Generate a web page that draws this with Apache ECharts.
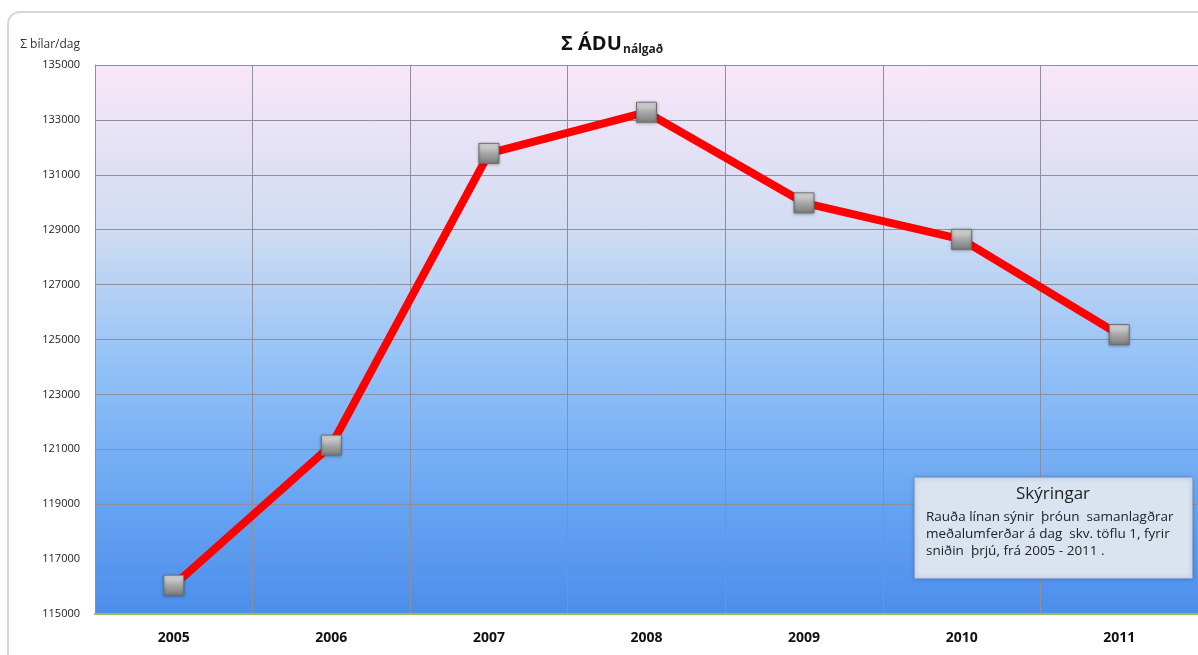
<!DOCTYPE html>
<html>
<head>
	<meta charset="utf-8">
	<title>Σ ÁDU nálgað</title>
	<script src="https://cdn.jsdelivr.net/npm/echarts@6/dist/echarts.min.js"></script>
	<style>
		html, body { margin: 0; padding: 0; background: #fff; }
	</style>
</head>
<body>
	<div id="main" style="width: 1198px;height: 655px;"></div>
</body>
<script type="text/javascript">
	var years = ['2005', '2006', '2007', '2008', '2009', '2010', '2011'];
	var adu = [116050, 121150, 131780, 133280, 129980, 128650, 125180];
	var yMin = 115000, yMax = 135000, yStep = 2000;

	var chart = echarts.init(document.getElementById('main'));
	var font = '"Open Sans", "DejaVu Sans", sans-serif';

	var option = {
		backgroundColor: '#fff',
		animation: false,
		grid: {
			left: 95, right: -3, top: 65, bottom: 41,
			show: true,
			borderWidth: 0,
			backgroundColor: new echarts.graphic.LinearGradient(0, 0, 0, 1, [
				{ offset: 0, color: '#f9e7f8' },
				{ offset: 0.3, color: '#d0dcf2' },
				{ offset: 0.55, color: '#92c1f7' },
				{ offset: 0.8, color: '#66a4f2' },
				{ offset: 1, color: '#4b8eeb' }
			])
		},
		xAxis: {
			type: 'category',
			data: years,
			boundaryGap: true,
			axisLine: { show: true, lineStyle: { color: '#9bbb59', width: 2 } },
			axisTick: { show: false },
			axisLabel: { color: '#111', fontSize: 14, fontWeight: 'bold', fontFamily: font, margin: 17 },
			splitLine: { show: true, lineStyle: { color: '#8e8e9c', width: 1 } }
		},
		yAxis: {
			type: 'value',
			min: yMin, max: yMax, interval: yStep,
			name: 'Σ bílar/dag',
			nameLocation: 'end',
			nameGap: 14,
			nameTextStyle: { color: '#333', fontSize: 12, fontFamily: font, align: 'right', padding: [0, 15, 0, 0] },
			axisLine: { show: true, lineStyle: { color: '#8e8e9c' } },
			axisTick: { show: false },
			axisLabel: { color: '#222', fontSize: 11, fontFamily: font, margin: 15, formatter: function (v) { return String(v); } },
			splitLine: { show: true, lineStyle: { color: '#8e8e9c', width: 1 } }
		},
		series: [{
			name: 'ÁDU',
			type: 'line',
			data: adu,
			lineStyle: { color: '#ff0000', width: 8 },
			symbol: 'rect',
			symbolSize: 20,
			itemStyle: {
				color: new echarts.graphic.LinearGradient(0, 0, 0, 1, [
					{ offset: 0, color: '#e4e4e4' },
					{ offset: 0.5, color: '#a8a8a8' },
					{ offset: 1, color: '#7a7a7a' }
				]),
				borderColor: '#6f6f6f',
				borderWidth: 1,
				shadowColor: 'rgba(0,0,0,0.35)',
				shadowBlur: 3,
				shadowOffsetY: 1
			},
			z: 5
		}],
		graphic: [
			{
				type: 'rect',
				x: 8, y: 12,
				shape: { width: 1210, height: 660, r: 12 },
				style: { fill: 'none', stroke: '#d6d6d6', lineWidth: 2 },
				silent: true, z: -1
			},
			{
				type: 'text',
				x: 561, y: 34,
				style: { text: 'Σ ÁDU', font: 'bold 20px ' + font, fill: '#111' }
			},
			{
				type: 'text',
				x: 623, y: 44,
				style: { text: 'nálgað', font: 'bold 12px ' + font, fill: '#222' }
			},
			{
				type: 'rect',
				x: 915, y: 478,
				shape: { width: 277, height: 100 },
				style: { fill: '#dae3f0', stroke: '#c6d0de', lineWidth: 1, shadowColor: 'rgba(0,0,0,0.25)', shadowBlur: 4 },
				z: 100
			},
			{
				type: 'text',
				x: 1053, y: 486,
				style: { text: 'Skýringar', font: '17px ' + font, fill: '#222', align: 'center' },
				z: 101
			},
			{
				type: 'text',
				x: 926, y: 509,
				style: {
					text: 'Rauða línan sýnir  þróun  samanlagðrar\nmeðalumferðar á dag  skv. töflu 1, fyrir\nsniðin  þrjú, frá 2005 - 2011 .',
					font: '13.5px ' + font, fill: '#222', lineHeight: 17
				},
				z: 101
			}
		]
	};
	chart.setOption(option);
</script>
</html>
